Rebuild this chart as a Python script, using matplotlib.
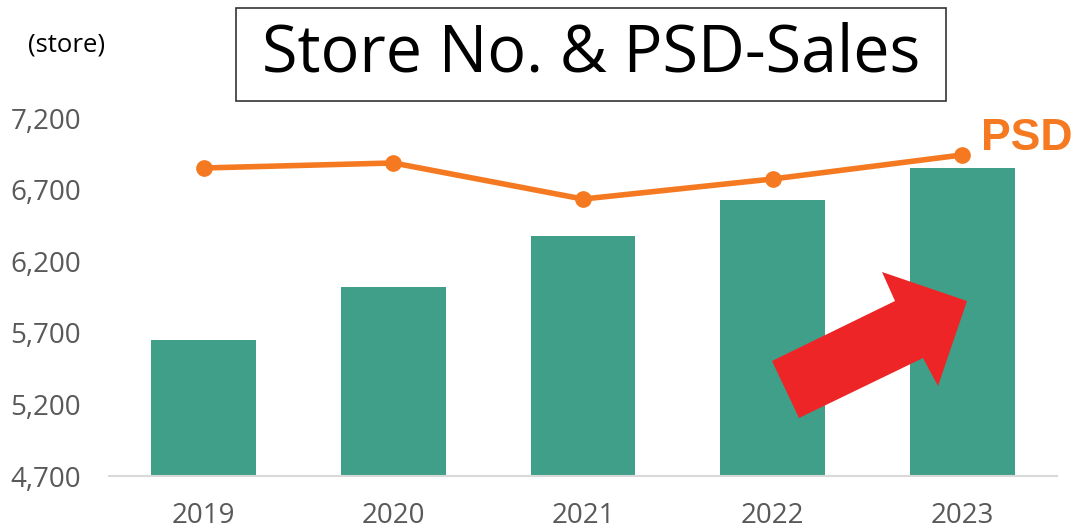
import numpy as np
import matplotlib.pyplot as plt
from matplotlib.patches import Polygon, Rectangle

years = ["2019", "2020", "2021", "2022", "2023"]
stores = [5650, 6020, 6376, 6627, 6851]
# PSD plotted on the same scale
psd = [6851, 6886, 6634, 6774, 6942]
yticks = [4700, 5200, 5700, 6200, 6700, 7200]

W, H = 1077, 531
fig = plt.figure(figsize=(W / 100, H / 100), dpi=100)
ax = fig.add_axes([109 / W, 1 - 476 / H, (1057 - 109) / W, (476 - 118) / H])

x = np.arange(len(years))
ax.bar(x, [s - 4700 for s in stores], bottom=4700, width=0.553, color="#409F89", zorder=2)
ax.plot(x, psd, color="#F47920", lw=4, marker="o", ms=11, zorder=3, clip_on=False)

ax.set_xlim(-0.5, len(years) - 0.5)
ax.set_ylim(4700, 7200)
ax.set_xticks(x)
ax.set_xticklabels(years)
ax.set_yticks(yticks)
ax.set_yticklabels([f"{v:,}" for v in yticks])
ax.tick_params(length=0, labelsize=20, labelcolor="#595959")
ax.tick_params(axis="x", pad=19)
ax.tick_params(axis="y", pad=20)
for lab in ax.get_xticklabels() + ax.get_yticklabels():
    lab.set_family("Open Sans")
for s in ["top", "right", "left"]:
    ax.spines[s].set_visible(False)
ax.spines["bottom"].set_color("#D9D9D9")
ax.spines["bottom"].set_linewidth(1.5)

ax.annotate("PSD", (x[-1], psd[-1]), xytext=(13.5, 12), textcoords="offset points",
            color="#F47920", fontsize=32, fontweight="bold", family="Liberation Sans",
            ha="left", va="center", annotation_clip=False)

fig.text(67 / W, 1 - 45 / H, "(store)", fontsize=18.5, family="Open Sans", ha="center", va="center")

# title box
fig.patches.append(Rectangle((236 / W, 1 - 101 / H), (946 - 236) / W, 93 / H,
                             transform=fig.transFigure, fill=False, ec="#333333", lw=1.2))
fig.text(591 / W, 1 - 55 / H, "Store No. & PSD-Sales", fontsize=46.5, family="Open Sans",
         ha="center", va="center")

# red arrow
arrow_px = [(772, 361), (895, 301), (882, 272), (967, 301), (938, 386), (923, 358), (799, 418)]
fig.patches.append(Polygon([(px / W, 1 - py / H) for px, py in arrow_px], closed=True,
                           transform=fig.transFigure, fc="#EE2527", ec="none", zorder=5))

fig.savefig("out.png", dpi=100)
